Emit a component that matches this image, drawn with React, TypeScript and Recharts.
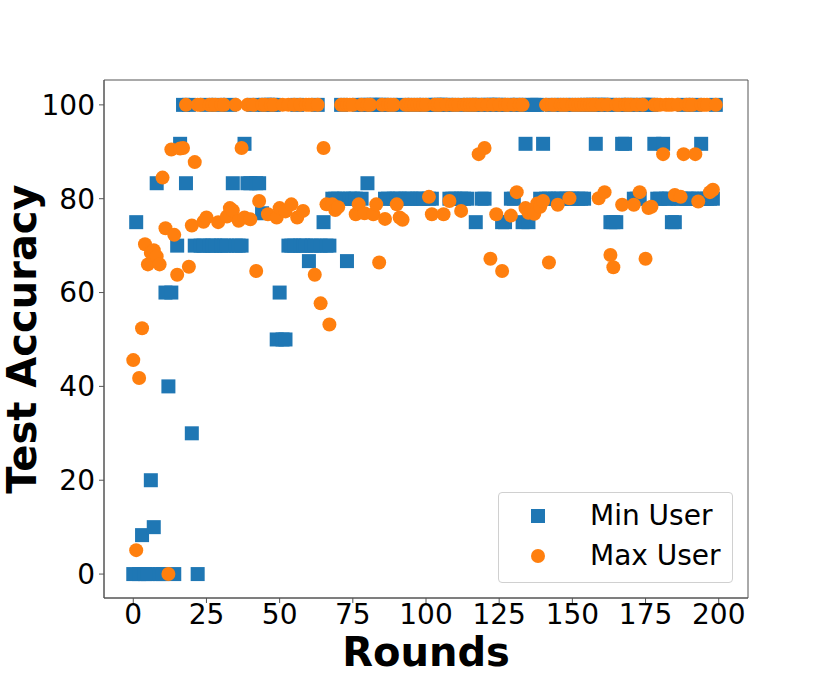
import { ReferenceArea, Scatter, ScatterChart, XAxis, YAxis } from "recharts";

// test accuracy per round, rounds 0..199
const minUser = [
  0, 75, 0, 8.3, 0, 0, 20, 10, 83.3, 0, 0, 60, 40, 60, 0, 70, 91.7, 100, 83.3, 100,
  30, 70, 0, 70, 70, 100, 70, 70, 70, 100, 70, 70, 70, 100, 83.3, 70, 70, 70, 91.7, 83.3,
  83.3, 100, 83.3, 83.3, 76.9, 100, 100, 100, 100, 50, 60, 50, 50, 70, 70, 70, 100, 70, 70, 70,
  66.7, 70, 70, 100, 70, 75, 70, 70, 80, 80, 80, 100, 80, 66.7, 80, 80, 80, 100, 80, 100,
  83.3, 100, 100, 100, 100, 100, 80, 80, 100, 80, 80, 80, 100, 80, 80, 80, 100, 80, 80, 80,
  100, 80, 80, 100, 100, 100, 100, 100, 80, 80, 80, 100, 80, 80, 80, 100, 100, 75, 100, 80,
  80, 100, 100, 100, 100, 100, 75, 75, 100, 80, 80, 100, 100, 75, 91.7, 75, 100, 100, 100, 80,
  91.7, 80, 80, 100, 80, 80, 80, 100, 80, 80, 80, 100, 80, 80, 80, 100, 100, 100, 91.7, 100,
  100, 100, 100, 75, 75, 75, 100, 91.7, 91.7, 100, 100, 80, 80, 80, 100, 100, 100, 100, 91.7, 80,
  80, 91.7, 80, 80, 75, 75, 80, 80, 100, 80, 80, 80, 100, 80, 91.7, 80, 80, 80, 80, 100,
];

const maxUser = [
  45.6, 5.1, 41.8, 52.4, 70.3, 66, 68.5, 69, 67.7, 66, 84.5, 73.7, 0, 90.5, 72.3, 63.8, 90.7, 90.8, 100, 65.5,
  74.3, 87.8, 100, 100, 75.1, 76, 100, 100, 100, 75, 100, 100, 76.2, 78, 77.5, 100, 75.3, 90.8, 76, 100,
  75.6, 100, 64.6, 79.5, 100, 100, 76.7, 100, 100, 76, 78, 100, 77.3, 100, 78.8, 100, 76, 100, 77.4, 100,
  100, 100, 63.8, 100, 57.7, 90.8, 78.8, 53.2, 78.8, 77.6, 78.2, 100, 100, 100, 100, 100, 76.7, 78.8, 100, 76.9,
  100, 100, 76.7, 78.8, 66.4, 100, 75.7, 100, 100, 100, 78.8, 76, 75.5, 100, 100, 100, 100, 100, 100, 100,
  100, 80.4, 76.7, 100, 100, 100, 76.7, 100, 79.5, 100, 100, 100, 77.4, 100, 100, 100, 100, 100, 89.5, 100,
  90.8, 100, 67.2, 100, 76.7, 100, 64.6, 100, 100, 76.4, 100, 81.4, 100, 100, 78, 77, 77.6, 76.8, 79, 78.3,
  79.5, 100, 66.4, 100, 100, 78.7, 100, 100, 100, 80.1, 100, 100, 100, 100, 100, 100, 100, 100, 100, 80.1,
  100, 81.4, 100, 68, 65.4, 100, 100, 78.7, 100, 100, 100, 78.7, 100, 81.4, 100, 67.2, 78, 78.3, 100, 100,
  100, 89.5, 100, 100, 100, 80.8, 100, 80.4, 89.5, 100, 100, 100, 89.5, 79.4, 100, 100, 100, 81.4, 81.9, 100,
];

const xTicks = [0, 25, 50, 75, 100, 125, 150, 175, 200];
const yTicks = [0, 20, 40, 60, 80, 100];

const BLUE = "#1f77b4";
const ORANGE = "#ff7f0e";
const FONT = "'DejaVu Sans', sans-serif";
const SPINE = "#555";

const minData = minUser.map((v, i) => ({ round: i, acc: v }));
const maxData = maxUser.map((v, i) => ({ round: i, acc: v }));

const Square = (p: any) => (
  <rect x={p.cx - 7} y={p.cy - 7} width={14} height={14} fill={BLUE} />
);
const Dot = (p: any) => <circle cx={p.cx} cy={p.cy} r={7} fill={ORANGE} />;

const tickStyle = { fontSize: 28, fill: "#000", fontFamily: FONT };

function XLabel({ viewBox }: any) {
  return (
    <text
      x={viewBox.x + viewBox.width / 2}
      y={viewBox.y + viewBox.height - 18}
      textAnchor="middle"
      fontSize={40}
      fontWeight="bold"
      fontFamily={FONT}
    >
      Rounds
    </text>
  );
}

function YLabel({ viewBox }: any) {
  const x = 36;
  const y = viewBox.y + viewBox.height / 2;
  return (
    <text
      x={x}
      y={y}
      transform={`rotate(-90 ${x} ${y})`}
      textAnchor="middle"
      fontSize={40}
      fontWeight="bold"
      fontFamily={FONT}
    >
      Test Accuracy
    </text>
  );
}

function LegendBox() {
  const row = { position: "absolute" as const, left: 0, display: "flex", alignItems: "center" };
  return (
    <div
      style={{
        position: "absolute",
        left: 498,
        top: 492,
        width: 233,
        height: 89,
        border: "1px solid #d0d0d0",
        borderRadius: 4,
        background: "rgba(255,255,255,0.8)",
        fontFamily: FONT,
        fontSize: 28,
      }}
    >
      <div style={{ ...row, top: 6 }}>
        <span style={{ width: 14, height: 14, background: BLUE, marginLeft: 32 }} />
        <span style={{ marginLeft: 45 }}>Min User</span>
      </div>
      <div style={{ ...row, top: 46 }}>
        <span style={{ width: 14, height: 14, borderRadius: 7, background: ORANGE, marginLeft: 32 }} />
        <span style={{ marginLeft: 45 }}>Max User</span>
      </div>
    </div>
  );
}

export default function App() {
  return (
    <div style={{ position: "absolute", left: 0, top: 0, width: 830, height: 684, background: "#fff" }}>
      <ScatterChart width={830} height={684} margin={{ top: 80, right: 82, bottom: 0, left: 0 }}>
        <XAxis
          type="number"
          dataKey="round"
          domain={[-10, 210]}
          ticks={xTicks}
          allowDataOverflow
          height={86}
          tickSize={5}
          tickMargin={1}
          tick={tickStyle}
          stroke={SPINE}
          label={<XLabel />}
        />
        <YAxis
          type="number"
          dataKey="acc"
          domain={[-5.1, 105.3]}
          ticks={yTicks}
          allowDataOverflow
          width={104}
          tickSize={5}
          tickMargin={4}
          tick={tickStyle}
          stroke={SPINE}
          label={<YLabel />}
        />
        <ReferenceArea x1={-10} x2={210} y1={-5.1} y2={105.3} fill="none" stroke={SPINE} strokeWidth={1} />
        <Scatter name="Min User" data={minData} shape={Square} isAnimationActive={false} />
        <Scatter name="Max User" data={maxData} shape={Dot} isAnimationActive={false} />
      </ScatterChart>
      <LegendBox />
    </div>
  );
}
